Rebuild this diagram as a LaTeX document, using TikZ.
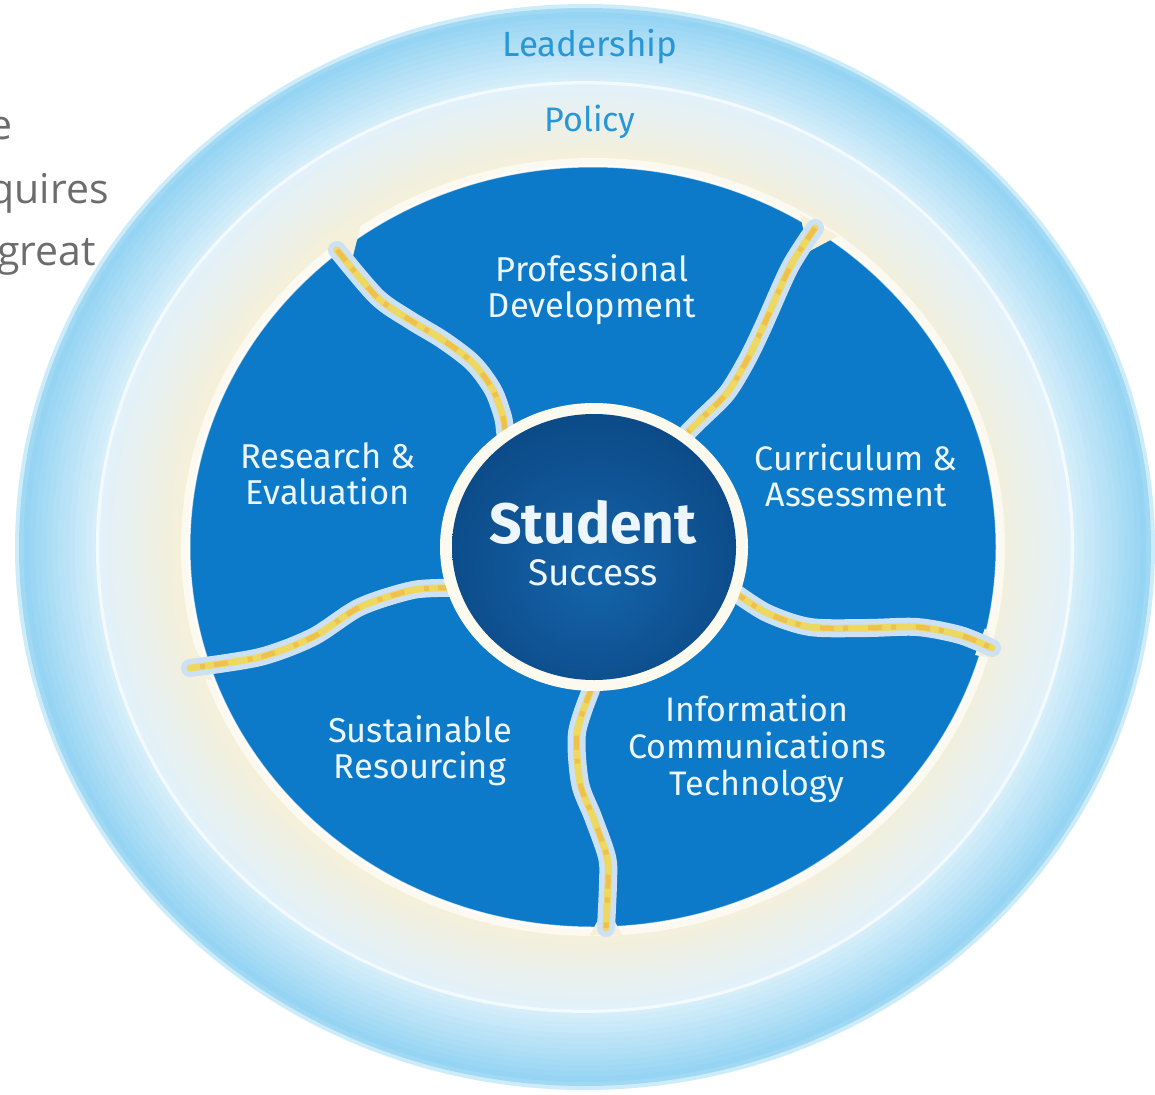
\documentclass[tikz,border=0pt]{standalone}
\usepackage{fontspec}
\setmainfont{Fira Sans}
\newfontfamily\graytxt{Open Sans}
\definecolor{segblue}{RGB}{12,122,200}
\definecolor{ringA}{RGB}{150,212,243}
\definecolor{ringAe}{RGB}{205,236,250}
\definecolor{ringB}{RGB}{214,238,250}
\definecolor{polC}{RGB}{226,241,250}
\definecolor{polY}{RGB}{244,240,218}
\definecolor{labblue}{RGB}{40,150,215}
\definecolor{coreA}{RGB}{20,100,170}
\definecolor{coreB}{RGB}{12,74,135}
\definecolor{coreC}{RGB}{6,52,102}
\definecolor{gapedge}{RGB}{205,225,246}
\definecolor{gapmid}{RGB}{246,214,60}
\definecolor{gaporange}{RGB}{240,150,40}
\definecolor{ringwhite}{RGB}{252,250,238}
\definecolor{graytext}{RGB}{108,108,108}
\definecolor{labwhite}{RGB}{236,246,252}
\pgfdeclareradialshading{coreshade}{\pgfpoint{0bp}{-6bp}}{%
 color(0bp)=(coreA); color(28bp)=(coreB); color(50bp)=(coreC)}
\tikzset{
 lab/.style={text=labwhite, align=center, inner sep=0pt},
 ringlab/.style={text=labblue, inner sep=0pt},
 gapout/.style={draw=gapedge, line width=18pt, line cap=round, line join=round},
 gapin/.style={draw=gapmid, line width=7pt, opacity=0.8, line cap=round, line join=round},
 gapdash/.style={draw=gaporange, line width=5pt, opacity=0.35, dash pattern=on 14pt off 9pt on 5pt off 20pt},
 graystyle/.style={text=graytext, inner sep=0pt, font=\graytxt\fontsize{41}{41}\selectfont}
}
\begin{document}
\begin{tikzpicture}[x=1pt,y=-1pt]
\useasboundingbox (0,0) rectangle (1155,1094);
% fragment of surrounding text
\node[graystyle, anchor=base east] (t1) at (13,140) {e};
\node[graystyle, anchor=base east] (t2) at (109,203) {quires};
\node[graystyle, anchor=base west] (t3) at (-3,265) {great};
% outer rings (Leadership)
\fill[ringAe] (585,547) ellipse [x radius=570pt, y radius=543pt];
\fill[ringA!80!ringAe] (585,547) ellipse [x radius=566pt, y radius=539pt];
\foreach \k in {0,...,12}{
 \pgfmathsetmacro{\f}{0.985-\k*0.01}
 \pgfmathsetmacro{\p}{100-\k*100/12}
 \fill[ringA!\p!ringB] (585,547) ellipse [x radius={\f*570pt}, y radius={\f*543pt}];
}
% border between rings
\fill[white!70!ringB] (585,547) ellipse [x radius={0.858*570pt}, y radius={0.858*543pt}];
% Policy ring
\foreach \k in {0,...,12}{
 \pgfmathsetmacro{\f}{0.852-\k*0.011}
 \pgfmathsetmacro{\p}{100-\k*100/12}
 \fill[polC!\p!polY] (585,547) ellipse [x radius={\f*570pt}, y radius={\f*543pt}];
}
% glow round the pie
\fill[white!60!polY] (593,547) ellipse [x radius=412pt, y radius=389pt];
% blue pie
\fill[segblue] (593,547) ellipse [x radius=403pt, y radius=380pt];
\draw[white, opacity=0.6, line width=3pt] (593,547) ellipse [x radius=404pt, y radius=381pt];
% notches at outer ends of gaps
\fill[polY] (326,236) -- (362,220) -- (350,268) -- cycle;
\fill[polY] (800,214) -- (838,236) -- (808,252) -- cycle;
\fill[polY] (985,628) -- (1000,660) -- (975,655) -- cycle;
\fill[polY] (590,935) -- (622,935) -- (606,905) -- cycle;
\fill[polY] (196,650) -- (212,680) -- (185,675) -- cycle;
% gaps between segments
\foreach \st in {gapout,gapin,gapdash}{
 \draw[\st] plot[smooth] coordinates {(337,250) (377,297) (410,320) (443,340) (473,363) (493,390) (503,417) (505,432)};
 \draw[\st] plot[smooth] coordinates {(815,228) (790,267) (763,327) (747,360) (727,393) (700,420) (688,432)};
 \draw[\st] plot[smooth] coordinates {(733,591) (767,613) (810,627) (867,628) (917,627) (960,635) (992,648)};
 \draw[\st] plot[smooth] coordinates {(591,690) (577,733) (580,783) (593,817) (607,857) (608,883) (606,928)};
 \draw[\st] plot[smooth] coordinates {(452,588) (413,590) (360,607) (313,637) (260,657) (190,668)};
}
% centre
\fill[ringwhite] (594,547) ellipse [x radius=154pt, y radius=144pt];
\path[shading=coreshade] (594,547) ellipse [x radius=142pt, y radius=133pt];
% labels
\node[ringlab, font=\fontsize{35}{35}\selectfont] (lead) at (590,47) {Leadership};
\node[ringlab, font=\fontsize{34}{34}\selectfont] (pol) at (590,122) {Policy};
\node[lab, font=\fontsize{34.5}{36}\selectfont] (pd) at (592,290) {Professional\\Development};
\node[lab, font=\fontsize{34.5}{36}\selectfont] (re) at (328,474) {Research \&\\Evaluation};
\node[lab, font=\fontsize{34}{36}\selectfont] (ca) at (856,475) {Curriculum \&\\Assessment};
\node[lab, font=\fontsize{34.5}{36}\selectfont] (sr) at (420,751) {Sustainable\\Resourcing};
\node[lab, font=\fontsize{34}{37}\selectfont] (ict) at (757,749) {Information\\Communications\\Technology};
\node[lab, font=\bfseries\fontsize{57}{57}\selectfont] (stu) at (593,522) {Student};
\node[lab, font=\fontsize{37}{37}\selectfont] (suc) at (593,573) {Success};
\end{tikzpicture}
\end{document}
